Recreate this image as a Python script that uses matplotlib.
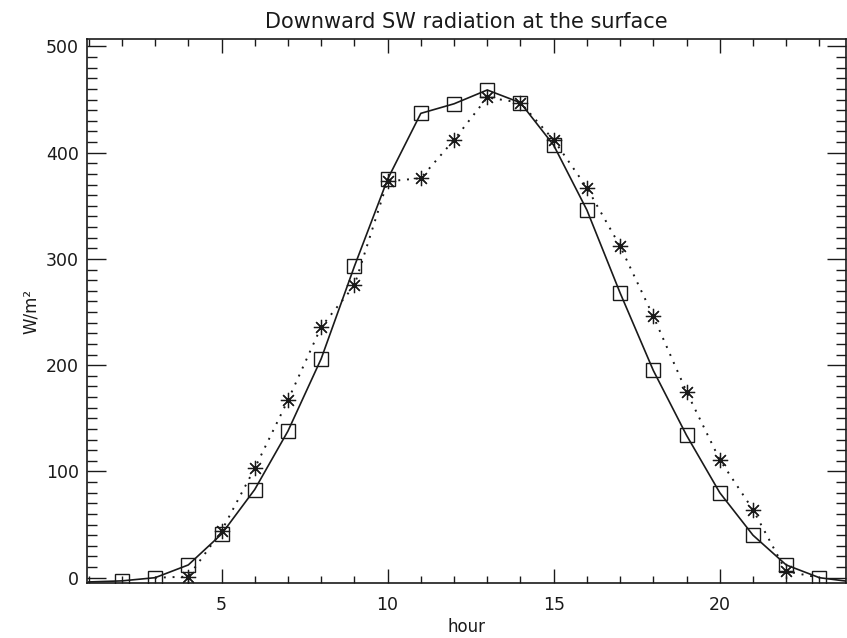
import matplotlib
matplotlib.use("Agg")
import matplotlib.pyplot as plt
from matplotlib.ticker import MultipleLocator

# data
hours_sq = [1, 2, 3, 4, 5, 6, 7, 8, 9, 10, 11, 12, 13, 14, 15, 16, 17, 18, 19, 20, 21, 22, 23, 24]
sw_sq = [-4, -3, 0, 12, 41, 83, 138, 206, 293, 375, 437, 446, 459, 447, 407, 346, 268, 195, 134, 80, 40, 12, 0, -4]

hours_st = [3, 4, 5, 6, 7, 8, 9, 10, 11, 12, 13, 14, 15, 16, 17, 18, 19, 20, 21, 22, 23]
sw_st = [0, 1, 44, 103, 167, 236, 275, 373, 376, 412, 452, 447, 412, 367, 312, 246, 175, 111, 64, 6, 0]

title = "Downward SW radiation at the surface"
xlabel = "hour"
ylabel = "W/m²"
xticks = [5, 10, 15, 20]
yticks = [0, 100, 200, 300, 400, 500]

fig = plt.figure(figsize=(8.47, 6.38), dpi=100)
ax = fig.add_axes([0.1027, 0.0862, 0.8961, 0.8527])
ink = "#1a1a1a"

n = len(hours_sq)
ax.plot(hours_sq, sw_sq, color=ink, lw=1.2, ls="-", marker="s", ms=10.5,
        mfc="none", mec=ink, mew=1.0, markevery=list(range(1, n - 1)))
m = len(hours_st)
ax.plot(hours_st, sw_st, color=ink, lw=1.4, ls=(0, (1, 3.5)), marker=(8, 2, 0),
        ms=11, mec=ink, mew=0.9, markevery=list(range(1, m - 1)))

ax.set_xlim(0.95, 23.8)
ax.set_ylim(-5, 507)
ax.set_xticks(xticks)
ax.set_yticks(yticks)
ax.xaxis.set_minor_locator(MultipleLocator(1))
ax.yaxis.set_minor_locator(MultipleLocator(10))
ax.tick_params(which="both", direction="in", top=True, right=True, color=ink, width=1.0)
ax.tick_params(axis="x", which="major", length=10, labelsize=12.5, pad=9, labelcolor=ink)
ax.tick_params(axis="x", which="minor", length=5)
ax.tick_params(axis="y", which="major", length=14, labelsize=12.5, pad=6, labelcolor=ink)
ax.tick_params(axis="y", which="minor", length=7)
for s in ax.spines.values():
    s.set_color(ink)
    s.set_linewidth(1.2)

ax.set_title(title, fontsize=15, color=ink, pad=8)
ax.set_xlabel(xlabel, fontsize=12, color=ink, labelpad=3)
ax.set_ylabel(ylabel, fontsize=12, color=ink, labelpad=4)

fig.savefig("out.png", dpi=100)
